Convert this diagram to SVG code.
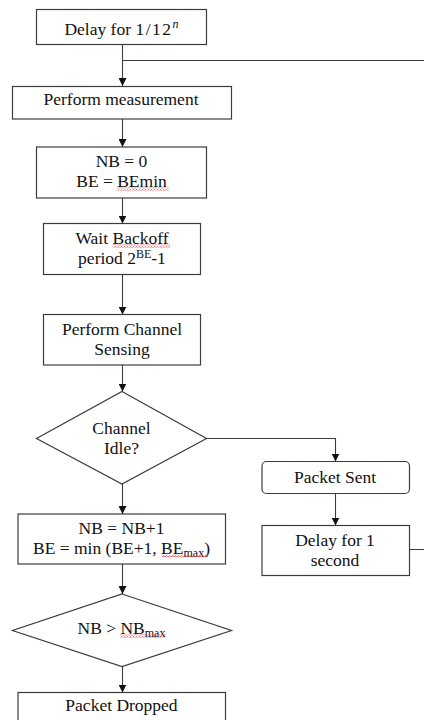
<svg xmlns="http://www.w3.org/2000/svg" width="424" height="720" viewBox="0 0 424 720">
  <style>
    .box { fill: #ffffff; stroke: #3c3c3c; stroke-width: 1.2; }
    .edge { fill: none; stroke: #3c3c3c; stroke-width: 1.1; }
    text { font-family: 'Liberation Serif', 'DejaVu Serif', serif; font-size: 17.5px; fill: #111111; text-anchor: middle; }
    .sm { font-size: 12px; }
    .wave { fill: url(#squiggle); }
  </style>
  <defs>
    <marker id="arrow" viewBox="0 0 10 10" refX="10" refY="5" markerWidth="8" markerHeight="8" markerUnits="userSpaceOnUse" orient="auto">
      <path d="M0,0 L10,5 L0,10 Z" fill="#111111"/>
    </marker>
    <pattern id="squiggle" x="0" y="0" width="3" height="3" patternUnits="userSpaceOnUse">
      <polyline points="0,2.5 1.5,0.5 3,2.5" fill="none" stroke="#e03030" stroke-width="0.8"/>
    </pattern>
  </defs>

  <!-- connectors -->
  <g id="connectors">
    <path class="edge" d="M122.5,44.5 V86" marker-end="url(#arrow)"/>
    <path class="edge" d="M122.5,119 V147" marker-end="url(#arrow)"/>
    <path class="edge" d="M122.5,198 V223.5" marker-end="url(#arrow)"/>
    <path class="edge" d="M122.5,274.5 V314.5" marker-end="url(#arrow)"/>
    <path class="edge" d="M122.5,365 V391.5" marker-end="url(#arrow)"/>
    <path class="edge" d="M206.5,438.5 H335.5 V461.5" marker-end="url(#arrow)"/>
    <path class="edge" d="M335.5,493.5 V525.5" marker-end="url(#arrow)"/>
    <path class="edge" d="M409.5,549.5 H432 V60.5 H122.5"/>
    <path class="edge" d="M122.5,484 V514" marker-end="url(#arrow)"/>
    <path class="edge" d="M122.5,564 V594" marker-end="url(#arrow)"/>
    <path class="edge" d="M122.5,666.5 V692.5" marker-end="url(#arrow)"/>
  </g>

  <g id="delay-start">
    <rect class="box" x="36.5" y="9.5" width="170" height="35"/>
    <text x="121.5" y="34.5">Delay for <tspan letter-spacing="1.5">1/12</tspan><tspan font-style="italic" font-size="12px" dy="-7">n</tspan></text>
  </g>

  <g id="measure">
    <rect class="box" x="12.5" y="86.5" width="219" height="32.5"/>
    <text x="121" y="105">Perform measurement</text>
  </g>

  <g id="init">
    <rect class="box" x="36.5" y="147" width="170" height="51"/>
    <text x="121.5" y="166.5">NB = 0</text>
    <text x="121.5" y="186.5">BE = BEmin</text>
    <rect class="wave" x="116.5" y="187.5" width="52.5" height="3"/>
  </g>

  <g id="backoff">
    <rect class="box" x="43.5" y="223.5" width="157" height="51"/>
    <text x="122" y="244">Wait Backoff</text>
    <text x="122" y="263.5">period 2<tspan class="sm" dy="-6">BE</tspan><tspan dy="6">-1</tspan></text>
    <rect class="wave" x="112.5" y="244.5" width="57.5" height="3"/>
  </g>

  <g id="sensing">
    <rect class="box" x="43.5" y="314.5" width="157" height="50.5"/>
    <text x="122" y="335">Perform Channel</text>
    <text x="122" y="355">Sensing</text>
  </g>

  <g id="idle-check">
    <polygon class="box" points="122,391.5 206.5,438.5 122,484 36.5,438.5"/>
    <text x="121.5" y="434">Channel</text>
    <text x="121.5" y="454">Idle?</text>
  </g>

  <g id="sent">
    <rect class="box" x="262" y="461.5" width="147.5" height="32" rx="4.5"/>
    <text x="335" y="483">Packet Sent</text>
  </g>

  <g id="delay-second">
    <rect class="box" x="262" y="525.5" width="147.5" height="50"/>
    <text x="335" y="546">Delay for 1</text>
    <text x="335" y="566">second</text>
  </g>

  <g id="increment">
    <rect class="box" x="18" y="514" width="207.5" height="50"/>
    <text x="121.5" y="533.5">NB = NB+1</text>
    <text x="121.5" y="553.5">BE = min (BE+1, BE<tspan class="sm" dy="3">max</tspan><tspan dy="-3">)</tspan></text>
    <rect class="wave" x="162" y="554.5" width="46" height="3"/>
  </g>

  <g id="limit-check">
    <polygon class="box" points="122,594 231.5,630.5 122,666.5 12.5,630.5"/>
    <text x="121.5" y="633.5">NB &gt; NB<tspan class="sm" dy="3">max</tspan></text>
    <rect class="wave" x="120" y="634.5" width="45.5" height="3"/>
  </g>

  <g id="dropped">
    <rect class="box" x="18" y="692.5" width="207.5" height="40"/>
    <text x="121.5" y="711">Packet Dropped</text>
  </g>
</svg>
